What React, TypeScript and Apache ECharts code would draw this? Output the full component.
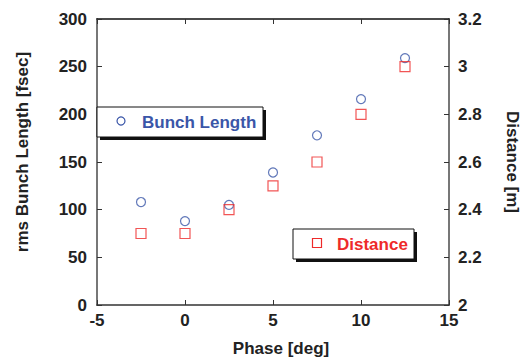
import React, { useEffect, useRef } from "react";
import * as echarts from "echarts";

const phase = [-2.5, 0, 2.5, 5, 7.5, 10, 12.5];
const bunchLength = [108, 88, 105, 139, 178, 216, 259];
const distance = [2.3, 2.3, 2.4, 2.5, 2.6, 2.8, 3.0];

const BLUE = "#3a56a8";
const RED = "#ee2a2a";
const TXT = "#222";
const FONT = "Liberation Sans, Arial, sans-serif";

export default function App() {
  const ref = useRef<HTMLDivElement>(null);
  useEffect(() => {
    const chart = echarts.init(ref.current!, null, { renderer: "svg" });
    const tickLabel = { color: TXT, fontWeight: "bold", fontSize: 17, fontFamily: FONT };
    chart.setOption({
      animation: false,
      grid: { left: 97, right: 74, top: 19, bottom: 53 },
      xAxis: [
        {
          type: "value", min: -5, max: 15, interval: 5, position: "bottom",
          axisLine: { show: true, onZero: false, lineStyle: { color: "#333", width: 1.5 } },
          axisTick: { show: true, inside: true, length: 5, lineStyle: { color: "#333" } },
          axisLabel: { ...tickLabel, margin: 7 },
          splitLine: { show: false },
        },
        {
          type: "value", min: -5, max: 15, interval: 5, position: "top",
          axisLine: { show: true, onZero: false, lineStyle: { color: "#111", width: 1.5 } },
          axisTick: { show: true, inside: true, length: 5, lineStyle: { color: "#333" } },
          axisLabel: { show: false },
          splitLine: { show: false },
        },
      ],
      yAxis: [
        {
          type: "value", min: 0, max: 300, interval: 50, position: "left",
          axisLine: { show: true, onZero: false, lineStyle: { color: "#777", width: 2 } },
          axisTick: { show: true, inside: true, length: 5, lineStyle: { color: "#333" } },
          axisLabel: { ...tickLabel, margin: 10 },
          splitLine: { show: false },
        },
        {
          type: "value", min: 2, max: 3.2, interval: 0.2, position: "right",
          axisLine: { show: true, onZero: false, lineStyle: { color: "#777", width: 2 } },
          axisTick: { show: true, inside: true, length: 5, lineStyle: { color: "#333" } },
          axisLabel: {
            ...tickLabel, margin: 9,
            formatter: (v: number) => String(parseFloat(v.toFixed(1))),
          },
          splitLine: { show: false },
        },
      ],
      series: [
        {
          name: "Bunch Length", type: "scatter", xAxisIndex: 0, yAxisIndex: 0,
          symbol: "circle", symbolSize: 9,
          itemStyle: { color: "#fff", borderColor: BLUE, borderWidth: 1.2 },
          data: phase.map((p, i) => [p, bunchLength[i]]),
        },
        {
          name: "Distance", type: "scatter", xAxisIndex: 0, yAxisIndex: 1,
          symbol: "rect", symbolSize: 10,
          itemStyle: { color: "rgba(255,255,255,0)", borderColor: RED, borderWidth: 1.2 },
          data: phase.map((p, i) => [p, distance[i]]),
        },
      ],
      graphic: [
        {
          type: "text", x: 22, y: 152, rotation: Math.PI / 2,
          style: { text: "rms Bunch Length [fsec]", fill: TXT, font: `bold 17px ${FONT}`, align: "center", verticalAlign: "middle" },
        },
        {
          type: "text", x: 512, y: 162, rotation: -Math.PI / 2,
          style: { text: "Distance [m]", fill: TXT, font: `bold 17px ${FONT}`, align: "center", verticalAlign: "middle" },
        },
        {
          type: "text", x: 281, y: 348,
          style: { text: "Phase [deg]", fill: TXT, font: `bold 17px ${FONT}`, align: "center", verticalAlign: "middle" },
        },
        // Bunch Length legend
        { type: "rect", shape: { x: 100, y: 110, width: 166, height: 30 }, style: { fill: "#111" }, z: 10 },
        { type: "rect", shape: { x: 97, y: 107, width: 166, height: 30 }, style: { fill: "#fff", stroke: "#111", lineWidth: 1 }, z: 11 },
        { type: "circle", shape: { cx: 121, cy: 121, r: 4 }, style: { fill: "#fff", stroke: BLUE, lineWidth: 1.2 }, z: 12 },
        {
          type: "text", x: 142, y: 122, z: 12,
          style: { text: "Bunch Length", fill: BLUE, font: `bold 17px ${FONT}`, verticalAlign: "middle" },
        },
        // Distance legend
        { type: "rect", shape: { x: 296, y: 232, width: 121, height: 30 }, style: { fill: "#111" }, z: 10 },
        { type: "rect", shape: { x: 293, y: 229, width: 121, height: 30 }, style: { fill: "#fff", stroke: "#111", lineWidth: 1 }, z: 11 },
        { type: "rect", shape: { x: 312.5, y: 238.5, width: 9, height: 9 }, style: { fill: "#fff", stroke: RED, lineWidth: 1.2 }, z: 12 },
        {
          type: "text", x: 337, y: 244, z: 12,
          style: { text: "Distance", fill: RED, font: `bold 17px ${FONT}`, verticalAlign: "middle" },
        },
      ],
    });
    return () => chart.dispose();
  }, []);
  return <div ref={ref} style={{ width: 523, height: 358, position: "absolute", left: 0, top: 0 }} />;
}
